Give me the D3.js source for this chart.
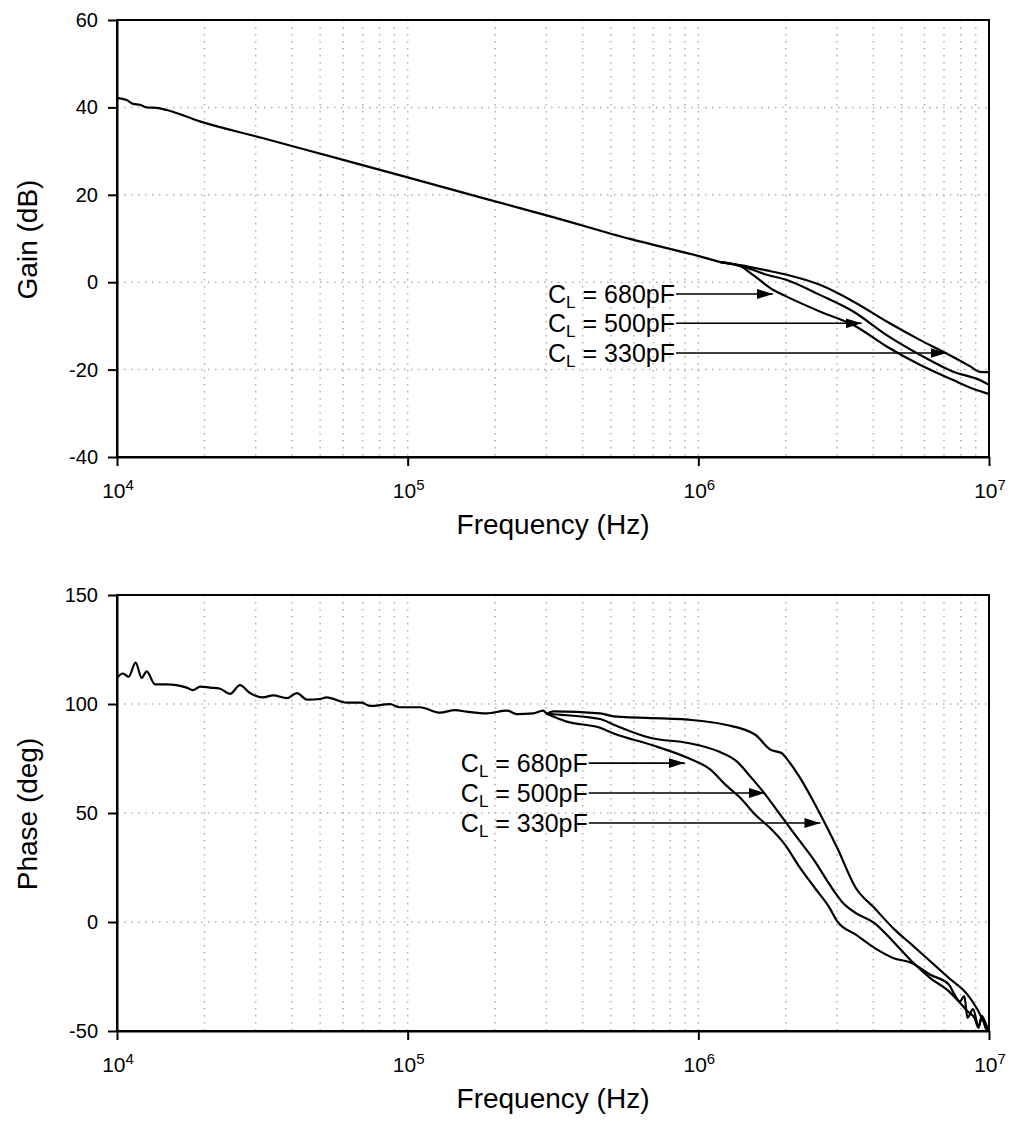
<!DOCTYPE html>
<html>
<head>
<meta charset="utf-8">
<script src="https://cdn.jsdelivr.net/npm/d3@7"></script>
<style>
  body { margin: 0; background: #fff; }
  svg { display: block; font-family: "Liberation Sans", Arial, sans-serif; }
</style>
</head>
<body>
<svg id="chart" width="1013" height="1135"></svg>
<script>
// values: [log10(frequency in Hz), value]
var gainShared = [[4.000,42.2],[4.033,41.7],[4.056,40.8],[4.079,40.6],[4.102,40.0],[4.137,39.9],[4.171,39.4],
    [4.285,36.8],[4.5,33.0],[4.75,28.5],[5.0,24.0],[5.25,19.4],[5.5,14.9],[5.765,9.9],[6.005,5.9],[6.076,4.6]];
var gain680 = [[6.143,3.7],[6.189,1.6],[6.258,-1.8],[6.304,-3.3],[6.418,-6.7],[6.533,-9.8],[6.648,-14.7],
    [6.762,-18.9],[6.877,-22.4],[6.95,-24.5],[7.0,-25.6]];
var gain500 = [[6.143,3.8],[6.235,1.7],[6.304,0.5],[6.418,-2.9],[6.533,-6.7],[6.648,-12.1],[6.762,-16.6],
    [6.877,-20.5],[6.968,-22.4],[7.0,-23.5]];
var gain330 = [[6.143,3.9],[6.235,2.7],[6.304,1.7],[6.418,-0.6],[6.533,-4.4],[6.648,-9.0],[6.762,-13.2],
    [6.854,-16.3],[6.934,-19.2],[6.968,-20.5],[7.0,-20.6]];

var phaseShared = [[4.000,112],[4.020,114],[4.040,112.5],[4.064,119],[4.085,112],[4.102,115],[4.131,109],
    [4.170,109],[4.205,108.7],[4.240,107.5],[4.261,106.4],[4.286,108],[4.320,107.5],[4.355,107],[4.389,104.6],
    [4.423,108.7],[4.458,105],[4.502,103],[4.537,104],[4.585,102.7],[4.619,105],[4.654,102],[4.698,102.3],
    [4.721,103],[4.790,100.6],[4.842,100.6],[4.870,99.1],[4.939,99.9],[4.973,98.5],[5.042,98.5],[5.111,96.0],
    [5.163,97.2],[5.203,96.5],[5.272,95.7],[5.341,97.0],[5.375,95.4],[5.432,95.7],[5.466,97.0],[5.478,95.5]];
var phase680 = [[5.547,91.9],[5.662,89.1],[5.709,86.5],[5.837,81.3],[5.965,75.2],[6.042,69.9],[6.093,63.0],
    [6.145,56.9],[6.196,49.2],[6.247,43.1],[6.298,35.5],[6.350,24.8],[6.401,15.6],[6.452,6.4],[6.478,0.3],
    [6.542,-5.8],[6.606,-11.9],[6.670,-16.5],[6.734,-18.8],[6.798,-24.2],[6.862,-28.7],[6.880,-33],[6.900,-36.4],
    [6.915,-34],[6.926,-44.0],[6.945,-40],[6.964,-47.9],[6.975,-44],[6.99,-49],[7.0,-50]];
var phase500 = [[5.501,95.3],[5.662,93.1],[5.709,90.5],[5.837,84.4],[5.965,82.1],[6.068,78.3],[6.132,73.7],
    [6.183,66.1],[6.222,59.9],[6.273,50.8],[6.324,41.6],[6.350,37.0],[6.401,27.8],[6.452,17.1],[6.503,8.0],
    [6.542,4.1],[6.606,-0.5],[6.670,-8.9],[6.734,-18.0],[6.798,-25.7],[6.862,-31.8],[6.90,-37],[6.926,-41.0],
    [6.95,-44],[6.964,-48.6],[6.975,-43],[6.99,-47],[7.0,-50]];
var phase330 = [[5.501,96.6],[5.662,95.7],[5.709,94.3],[5.965,92.8],[6.093,90.5],[6.196,85.9],[6.247,79.1],
    [6.286,77.5],[6.311,73.7],[6.350,66.1],[6.414,50.8],[6.478,33.9],[6.542,15.6],[6.606,6.4],[6.670,-2.8],
    [6.734,-10.4],[6.798,-18.0],[6.862,-25.7],[6.926,-33.3],[6.96,-40],[6.99,-48],[7.0,-50]];

var freqTicks = [4, 5, 6, 7];
var gainTicks = [60, 40, 20, 0, -20, -40];
var phaseTicks = [150, 100, 50, 0, -50];
var capLabels = ["680pF", "500pF", "330pF"];
// annotation: text start [logF], row value, arrow tip [logF]
var gainLabelStart = 5.483, gainLabelRows = [-2.7, -9.4, -16.2], gainArrowTips = [6.257, 6.562, 6.854];
var phaseLabelStart = 5.183, phaseLabelRows = [72.9, 59.2, 45.4], phaseArrowTips = [5.953, 6.229, 6.42];

var svg = d3.select("#chart");

var x = d3.scaleLog().domain([1e4, 1e7]).range([117, 989]);

// arrow head
svg.append("defs").append("marker")
    .attr("id", "head")
    .attr("viewBox", "0 0 16 10")
    .attr("refX", 16).attr("refY", 5)
    .attr("markerWidth", 16).attr("markerHeight", 10)
    .attr("markerUnits", "userSpaceOnUse")
    .attr("orient", "auto")
  .append("path")
    .attr("d", "M0,0L16,5L0,10Z")
    .attr("fill", "#000");

function drawPanel(top, bottom, yDomain, yTicks, yTitle, shared, series, labelStart, labelRows, arrowTips) {
    var y = d3.scaleLinear().domain(yDomain).range([bottom, top]);
    var g = svg.append("g");

    // minor decade grid
    var minor = [];
    [4, 5, 6].forEach(function(d) {
        for (var k = 1; k <= 9; k++) if (!(k == 1 && d == 4)) minor.push(k * Math.pow(10, d));
    });
    g.selectAll(".vgrid").data(minor).enter().append("line")
        .attr("x1", function(d){ return x(d) }).attr("x2", function(d){ return x(d) })
        .attr("y1", top).attr("y2", bottom)
        .attr("stroke", "#b0b0b0").attr("stroke-width", 1.5)
        .style("stroke-dasharray", "1.5,5.5");
    g.selectAll(".hgrid").data(yTicks.slice(1, -1)).enter().append("line")
        .attr("x1", 117).attr("x2", 989)
        .attr("y1", function(d){ return y(d) }).attr("y2", function(d){ return y(d) })
        .attr("stroke", "#b0b0b0").attr("stroke-width", 1.5)
        .style("stroke-dasharray", "1.5,5.5");

    var line = d3.line()
        .x(function(d){ return x(Math.pow(10, d[0])) })
        .y(function(d){ return y(d[1]) })
        .curve(d3.curveMonotoneX);

    g.append("path").attr("d", line(shared))
        .attr("fill", "none").attr("stroke", "#000").attr("stroke-width", 2.2);
    series.forEach(function(s) {
        g.append("path").attr("d", line([shared[shared.length - 1]].concat(s)))
            .attr("fill", "none").attr("stroke", "#000").attr("stroke-width", 2.2)
            .attr("stroke-linejoin", "round");
    });

    // frame
    g.append("rect").attr("x", 117).attr("y", top).attr("width", 989 - 117).attr("height", bottom - top)
        .attr("fill", "none").attr("stroke", "#000").attr("stroke-width", 2);

    // axes
    var yAxis = g.append("g").attr("transform", "translate(117,0)")
        .call(d3.axisLeft(y).tickValues(yTicks).tickSize(9).tickSizeOuter(0).tickPadding(10)
            .tickFormat(String));
    yAxis.selectAll("line").attr("stroke-width", 2);
    yAxis.select(".domain").attr("stroke-width", 2);
    yAxis.selectAll("text").attr("font-size", 20).attr("fill", "#000")
        .attr("font-family", "Liberation Sans, Arial, sans-serif");

    var xAxis = g.append("g").attr("transform", "translate(0," + bottom + ")")
        .call(d3.axisBottom(x).tickValues(freqTicks.map(function(d){ return Math.pow(10, d) }))
            .tickSize(9).tickSizeOuter(0).tickFormat(""));
    xAxis.selectAll("line").attr("stroke-width", 2);
    xAxis.select(".domain").attr("stroke-width", 2);

    var xl = g.selectAll(".xlab").data(freqTicks).enter().append("text")
        .attr("x", function(d){ return x(Math.pow(10, d)) + 1 })
        .attr("y", bottom + 41)
        .attr("text-anchor", "middle")
        .attr("font-size", 21);
    xl.append("tspan").text("10");
    xl.append("tspan").attr("font-size", 15).attr("dy", -8).text(function(d){ return d });

    g.append("text").attr("x", 553).attr("y", bottom + 77)
        .attr("text-anchor", "middle").attr("font-size", 28).text("Frequency (Hz)");
    g.append("text")
        .attr("transform", "translate(37," + ((top + bottom) / 2 + 1) + ") rotate(-90)")
        .attr("text-anchor", "middle").attr("font-size", 28).text(yTitle);

    // annotations
    capLabels.forEach(function(c, i) {
        var ry = y(labelRows[i]);
        var t = g.append("text").attr("x", x(Math.pow(10, labelStart))).attr("y", ry + 9)
            .attr("font-size", 25);
        t.append("tspan").text("C");
        t.append("tspan").attr("font-size", 17).attr("dy", 5).text("L");
        t.append("tspan").attr("dy", -5).text(" = " + c);
        var endX = x(Math.pow(10, labelStart)) + t.node().getComputedTextLength() + 1;
        g.append("line").attr("x1", endX).attr("x2", x(Math.pow(10, arrowTips[i])))
            .attr("y1", ry).attr("y2", ry)
            .attr("stroke", "#000").attr("stroke-width", 1.6)
            .attr("marker-end", "url(#head)");
    });
}

drawPanel(20, 457, [-40, 60], gainTicks, "Gain (dB)", gainShared, [gain680, gain500, gain330],
    gainLabelStart, gainLabelRows, gainArrowTips);
drawPanel(595, 1031, [-50, 150], phaseTicks, "Phase (deg)", phaseShared, [phase680, phase500, phase330],
    phaseLabelStart, phaseLabelRows, phaseArrowTips);
</script>
</body>
</html>
